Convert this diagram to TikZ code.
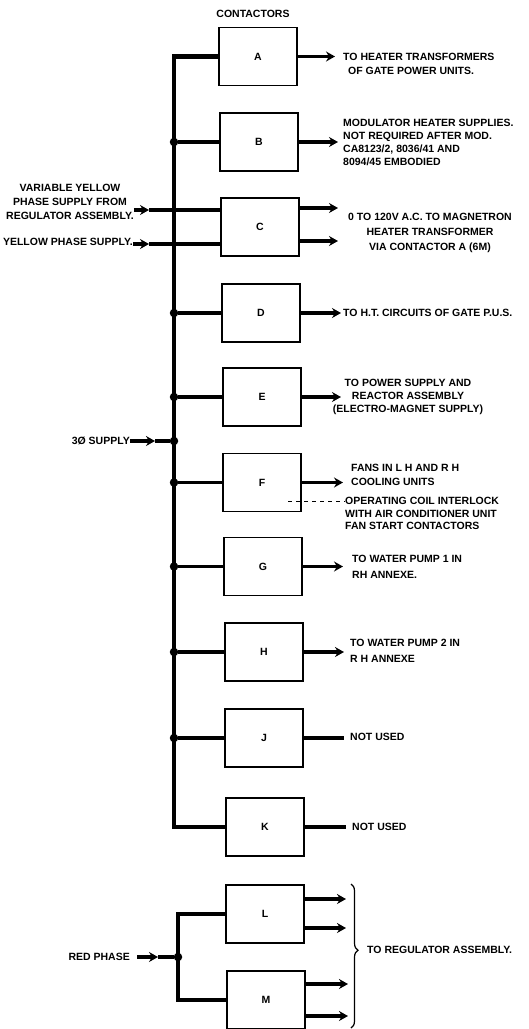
\documentclass[tikz,border=0pt]{standalone}
\usepackage{fontspec}
\setmainfont{Liberation Sans}
\usetikzlibrary{arrows.meta,decorations.pathreplacing}
\newcommand\lblfont{\bfseries\fontsize{10.5}{13}\selectfont}
\begin{document}
\begin{tikzpicture}[x=1pt,y=-1pt,
  box/.style={draw,line width=1.4pt,minimum width=78pt,minimum height=58pt,inner sep=0pt,font=\lblfont},
  lbl/.style={inner sep=0pt,font=\lblfont},
  wire/.style={line width=3.5pt},
  bus/.style={line width=4.5pt,line join=miter},
  arr/.style={-{Stealth[length=9pt,width=10pt,inset=3pt]}},
  dot/.style={circle,fill,inner sep=0pt,minimum size=8.5pt},
  dashln/.style={line width=1pt,dash pattern=on 4pt off 4pt}]
\useasboundingbox (0,0) rectangle (528,1029);

% title
\node[lbl] (title) at (253,14) {CONTACTORS};

% contactor boxes
\node[box] (A) at (258,56.5) {A};
\node[box] (B) at (259,142) {B};
\node[box] (C) at (260,227) {C};
\node[box] (D) at (261,313) {D};
\node[box] (E) at (262,397) {E};
\node[box] (F) at (262,482.5) {F};
\node[box] (G) at (263,566.5) {G};
\node[box] (H) at (264,652) {H};
\node[box] (J) at (264,738) {J};
\node[box] (K) at (265,827) {K};
\node[box] (L) at (265,914) {L};
\node[box] (M) at (266,1000) {M};

% bus
\coordinate (bustop) at (174,56.5);
\coordinate (busbot) at (174,827);
\draw[bus] (A.west) -- (bustop) -- (busbot) -- (K.west);
\foreach \b in {B,D,E,F,G,H,J}{
  \node[dot] (j\b) at (\b.west -| bustop) {};
  \draw[wire] (j\b) -- (\b.west);
}

% left inputs
\node[lbl,align=center,anchor=north] (vy) at (70,184.3) {VARIABLE YELLOW\\[1pt]PHASE SUPPLY FROM\\[1pt]REGULATOR ASSEMBLY.};
\node[lbl,anchor=east] (yp) at (133,242) {YELLOW PHASE SUPPLY.};
\coordinate (vyt) at (149,210);
\coordinate (ypt) at (149,244);
\draw[wire,arr] (vy.east |- vyt) -- (vyt);
\draw[wire] (vyt) -- (C.west |- vyt);
\draw[wire,arr] (yp.east |- ypt) -- (ypt);
\draw[wire] (ypt) -- (C.west |- ypt);

\node[lbl,anchor=east] (s3) at (130,441) {3Ø SUPPLY};
\node[dot] (j3) at (bustop |- 0,441) {};
\coordinate (t3) at (155,441);
\draw[wire,arr] (s3.east |- t3) -- (t3);
\draw[wire] (t3) -- (j3);

% right labels
\node[lbl,anchor=north west,align=left] (Alab) at (343,53.3) {TO HEATER TRANSFORMERS\\[1pt]\hspace*{5pt}OF GATE POWER UNITS.};
\node[lbl,anchor=north west,align=left] (Blab) at (343,119.3) {MODULATOR HEATER SUPPLIES.\\NOT REQUIRED AFTER MOD.\\CA8123/2, 8036/41 AND\\8094/45 EMBODIED};
\node[lbl,anchor=north,align=center] (Clab) at (430,213.3) {0 TO 120V A.C. TO MAGNETRON\\[2pt]HEATER TRANSFORMER\\[2pt]VIA CONTACTOR A (6M)};
\node[lbl,anchor=west] (Dlab) at (343,313) {TO H.T. CIRCUITS OF GATE P.U.S.};
\node[lbl,anchor=north,align=center] (Elab) at (408,379.3) {TO POWER SUPPLY AND\\REACTOR ASSEMBLY\\(ELECTRO-MAGNET SUPPLY)};
\node[lbl,anchor=north west,align=left] (Flab) at (351,464.3) {FANS IN L H AND R H\\[1pt]COOLING UNITS};
\node[lbl,anchor=north west,align=left] (opc) at (345,497.3) {OPERATING COIL INTERLOCK\\[-0.5pt]WITH AIR CONDITIONER UNIT\\[-0.5pt]FAN START CONTACTORS};
\node[lbl,anchor=north west,align=left] (Glab) at (352,555.3) {TO WATER PUMP 1 IN\\[3pt]RH ANNEXE.};
\node[lbl,anchor=north west,align=left] (Hlab) at (350,639.3) {TO WATER PUMP 2 IN\\[3pt]R H ANNEXE};
\node[lbl,anchor=west] (Jlab) at (350,737) {NOT USED};
\node[lbl,anchor=west] (Klab) at (352,827) {NOT USED};

% output ends
\coordinate (oA) at (335,56.5);
\coordinate (oB) at (338,142);
\coordinate (oC1) at (338,208);
\coordinate (oC2) at (338,241);
\coordinate (oD) at (341,313);
\coordinate (oE) at (341,397);
\coordinate (oF) at (343,482.5);
\coordinate (oG) at (343,566.5);
\coordinate (oH) at (344,652);
\coordinate (oJ) at (344,738);
\coordinate (oK) at (346,827);

\draw[wire,arr] (A.east) -- (oA);
\draw[wire,arr] (B.east) -- (oB);
\draw[wire,arr] (C.east |- oC1) -- (oC1);
\draw[wire,arr] (C.east |- oC2) -- (oC2);
\draw[wire,arr] (D.east) -- (oD);
\draw[wire,arr] (E.east) -- (oE);
\draw[wire,arr] (F.east) -- (oF);
\draw[wire,arr] (G.east) -- (oG);
\draw[wire,arr] (H.east) -- (oH);
\draw[wire] (J.east) -- (oJ);
\draw[wire] (K.east) -- (oK);

\coordinate (dF) at (288,501);
\draw[dashln] (dF) -- (opc.west |- dF);

% red phase group
\node[lbl,anchor=east] (rp) at (130,957) {RED PHASE};
\node[dot] (jr) at (178,957) {};
\coordinate (tr) at (158,957);
\draw[wire,arr,shorten <=7pt] (rp.east |- tr) -- (tr);
\draw[wire] (tr) -- (jr);
\draw[wire,line join=miter] (L.west) -- (L.west -| jr) -- (M.west -| jr) -- (M.west);

\coordinate (oL1) at (346,899);
\coordinate (oL2) at (346,928);
\coordinate (oM1) at (348,984);
\coordinate (oM2) at (348,1016);
\draw[wire,arr] (L.east |- oL1) -- (oL1);
\draw[wire,arr] (L.east |- oL2) -- (oL2);
\draw[wire,arr] (M.east |- oM1) -- (oM1);
\draw[wire,arr] (M.east |- oM2) -- (oM2);

\draw[line width=1.2pt,decorate,decoration={brace,amplitude=7pt,aspect=0.46}] (351,884) -- (351,1028);
\node[lbl,anchor=west] (Rlab) at (367,950) {TO REGULATOR ASSEMBLY.};
\end{tikzpicture}
\end{document}
